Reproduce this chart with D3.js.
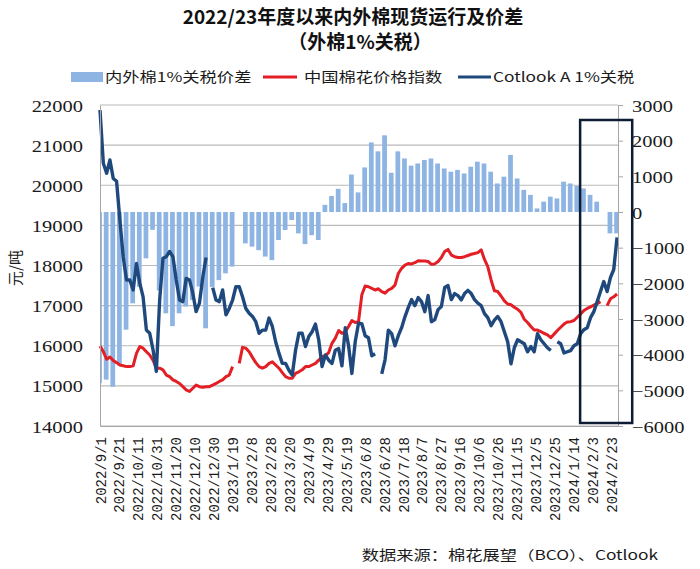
<!DOCTYPE html>
<html><head><meta charset="utf-8">
<script src="https://cdn.jsdelivr.net/npm/d3@7"></script>
<style>body{margin:0;background:#fff}</style>
</head><body>
<svg id="chart" width="700" height="569"></svg>
<script>
// ---------------- data ----------------
const titleLines = ["2022/23年度以来内外棉现货运行及价差", "（外棉1%关税）"];
const legendLabels = ["内外棉1%关税价差", "中国棉花价格指数", "Cotlook A 1%关税"];
const sourceText = "数据来源：棉花展望（BCO）、Cotlook";
const yAxisTitle = "元/吨";

const axisStart = "2022/9/1";
const axisEnd = "2024/3/1";
const lineStart = "2022/9/1";   // line samples every 3.5 days
const lineStepDays = 3.5;
const barWeekStart = "2022/8/29"; // weekly bars (Mon–Fri)

const cotlookA = [
 21875,20550,20300,20630,20170,20100,19130,18220,17640,17640,
 17390,18050,17560,17220,16390,16310,15900,15360,17140,18180,
 18220,18350,18220,17640,17140,17100,17680,17640,17310,16850,
 17060,17700,18200,null,17450,17140,17100,17390,16770,16930,
 17140,17470,17470,17220,16930,16810,16730,16600,16310,16390,
 16390,16690,16480,16100,15810,15560,15560,15390,15270,15890,
 16310,16310,15980,16230,16350,16540,16140,15480,15770,15640,
 15560,15890,15930,15500,16450,16000,15310,16100,16560,16550,
 16250,16200,15750,15800,null,15300,15650,16390,16300,16000,
 16250,16450,16720,16950,17150,17000,17200,17100,16850,17250,
 16600,16650,16900,16980,17450,17500,17150,17300,17250,17140,
 17300,17380,17300,17150,17060,17000,16800,16700,16500,16640,
 16730,16600,16350,16100,15550,15950,16150,16100,16050,15850,
 15980,15850,16300,16150,16050,15950,15880,null,16100,16050,
 15820,15850,15880,16000,16050,16300,16400,16450,16700,16850,
 17100,17350,17600,17350,17700,17900,18700];

const ccIndex = [
 15995,15854,15663,15720,15630,15580,15520,15500,15480,15480,
 15500,15810,15980,15940,15850,15770,15640,15440,15440,15400,
 15270,15230,15150,15110,15060,14980,14900,14860,14940,15020,
 14980,14965,14980,14980,15020,15060,15110,15150,15230,15270,
 15480,null,15560,15960,15940,15850,15710,15580,15480,15440,
 15480,15560,15600,15520,15440,15330,15230,15190,15190,15310,
 15350,15400,15480,15480,15520,15560,15640,15730,15750,15830,
 16060,16190,16380,16310,16350,16480,16630,16580,16600,17270,
 17490,17470,17430,17390,17420,17350,17310,17390,17430,17510,
 17800,17930,18010,18050,18040,18070,18120,18110,18110,18100,
 18030,18040,18100,18200,18350,18400,18260,18220,18200,18200,
 18220,18250,18280,18300,18320,18390,18150,17970,17640,17370,
 17350,17240,17120,17040,17020,16960,16910,16830,16660,16580,
 16480,16390,16390,16350,16310,16270,16200,16290,16380,16460,
 16540,16590,16600,16630,16710,16790,16880,16930,16970,17010,
 17050,17100,null,17000,17170,17220,17290];

const spreadWeekly = [
 -4800,-4700,-4900,-4300,-3300,-2560,-2100,-1300,-500,-2200,
 -2840,-3200,-2840,-2650,-2470,-2090,-3260,-2100,-1910,-1720,
 -1530,null,-880,-970,-1070,-1250,-1350,-785,-505,-225,
 -600,-900,-650,-785,200,450,650,250,1050,550,
 1250,1950,1700,2150,1100,1700,1500,1300,1360,1460,
 1500,1360,1220,1130,1180,1080,1270,1410,1360,1130,
 800,990,1600,940,620,480,100,290,430,380,
 850,800,730,660,480,290,null,-600,-600];

const xTickLabels = ["2022/9/1","2022/9/21","2022/10/11","2022/10/31","2022/11/20","2022/12/10","2022/12/30",
 "2023/1/19","2023/2/8","2023/2/28","2023/3/20","2023/4/9","2023/4/29","2023/5/19","2023/6/8","2023/6/28",
 "2023/7/18","2023/8/7","2023/8/27","2023/9/16","2023/10/6","2023/10/26","2023/11/15","2023/12/5",
 "2023/12/25","2024/1/14","2024/2/3","2024/2/23"];
const leftTicks = [14000,15000,16000,17000,18000,19000,20000,21000,22000];
const rightTicks = [-6000,-5000,-4000,-3000,-2000,-1000,0,1000,2000,3000];
const highlightFrom = "2024/1/21", highlightTo = "2024/3/16";

// ---------------- helpers ----------------
const DAY = 864e5;
const pd = s => { const [y,m,d] = s.split("/").map(Number); return new Date(Date.UTC(y, m-1, d)); };
const SX = 1.28; // horizontal text stretch seen in the source image
const C = {bar:"#8eb4e3", red:"#e31e24", blue:"#1f497d", grid:"#bababa", axis:"#a6a6a6", text:"#1a1a1a"};

const svg = d3.select("#chart");
const L = 100, R = 618, T = 105, B = 426;

const x = d3.scaleUtc().domain([pd(axisStart), pd(axisEnd)]).range([L, R]);
const yL = d3.scaleLinear().domain([14000, 22000]).range([B, T]);
const yR = d3.scaleLinear().domain([-6000, 3000]).range([B, T]);

// grid
svg.append("g").selectAll("line").data(leftTicks).join("line")
  .attr("x1", L).attr("x2", R).attr("y1", d => yL(d)).attr("y2", d => yL(d))
  .attr("stroke", C.grid).attr("stroke-width", 1.2);

// bars
const wk0 = pd(barWeekStart);
const bars = spreadWeekly.map((v, k) => ({v, mon: new Date(+wk0 + k*7*DAY)})).filter(d => d.v != null);
svg.append("g").selectAll("rect").data(bars).join("rect")
  .attr("x", d => Math.max(L, x(d.mon)))
  .attr("width", d => Math.min(R, x(new Date(+d.mon + 5*DAY))) - Math.max(L, x(d.mon)))
  .attr("y", d => Math.min(yR(0), yR(d.v)))
  .attr("height", d => Math.abs(yR(d.v) - yR(0)))
  .attr("fill", C.bar);

// lines
const l0 = pd(lineStart);
const dateAt = i => new Date(+l0 + i*lineStepDays*DAY);
const mkLine = d3.line().defined(d => d != null).x((d, i) => x(dateAt(i))).y(d => yL(d));
svg.append("path").datum(ccIndex).attr("d", mkLine).attr("fill", "none")
  .attr("stroke", C.red).attr("stroke-width", 3).attr("stroke-linejoin", "round");
svg.append("path").datum(cotlookA).attr("d", mkLine).attr("fill", "none")
  .attr("stroke", C.blue).attr("stroke-width", 3.4).attr("stroke-linejoin", "round");

// axes
const gl = svg.append("g").attr("transform", `translate(${L},0)`)
  .call(d3.axisLeft(yL).tickValues(leftTicks).tickSize(0).tickPadding(0).tickFormat(d3.format("d")));
gl.select(".domain").attr("stroke", C.axis);
gl.selectAll(".tick text").attr("x", null).attr("dy", null)
  .attr("transform", `translate(-17,6) scale(${SX},1)`)
  .style("font-family", "'Liberation Serif'").style("font-size", "16px").attr("fill", C.text);

const gr = svg.append("g").attr("transform", `translate(${R},0)`)
  .call(d3.axisRight(yR).tickValues(rightTicks).tickSize(5).tickPadding(0)
        .tickFormat(d => d < 0 ? "−" + Math.abs(d) : String(d)));
gr.select(".domain").attr("stroke", C.axis);
gr.selectAll(".tick line").attr("stroke", C.axis);
gr.selectAll(".tick text").attr("x", null).attr("dy", null)
  .attr("transform", `translate(14,6) scale(${SX},1)`)
  .style("font-family", "'Liberation Serif'").style("font-size", "16px").attr("fill", C.text);

const gb = svg.append("g").attr("transform", `translate(0,${B})`)
  .call(d3.axisBottom(x).tickValues(xTickLabels.map(pd)).tickSize(0)
        .tickFormat((d, i) => xTickLabels[i]));
gb.select(".domain").attr("stroke", C.axis);
gb.selectAll(".tick text").attr("y", null).attr("dy", null)
  .attr("transform", "translate(5,11) rotate(-90)").attr("text-anchor", "end")
  .style("font-family", "'Liberation Mono'").style("font-size", "14px").attr("fill", C.text);

// highlight frame
svg.append("rect").attr("x", x(pd(highlightFrom))).attr("y", 120)
  .attr("width", x(pd(highlightTo)) - x(pd(highlightFrom))).attr("height", 303)
  .attr("fill", "none").attr("stroke", "#0d1b33").attr("stroke-width", 2.5);

// titles
svg.append("text").attr("transform", "translate(353,24)").attr("text-anchor", "middle")
  .style("font-family", "'Noto Sans CJK SC'").style("font-weight", 700).style("font-size", "19px")
  .attr("fill", "#111").text(titleLines[0]);
svg.append("text").attr("transform", "translate(360,49)").attr("text-anchor", "middle")
  .style("font-family", "'Noto Sans CJK SC'").style("font-weight", 700).style("font-size", "19px")
  .attr("fill", "#111").text(titleLines[1]);

// legend
const lg = svg.append("g").style("font-family", "'Noto Sans CJK SC'").style("font-size", "13.5px");
lg.append("rect").attr("x", 71).attr("y", 72).attr("width", 32).attr("height", 10).attr("fill", C.bar);
lg.append("line").attr("x1", 263).attr("x2", 297).attr("y1", 77).attr("y2", 77).attr("stroke", C.red).attr("stroke-width", 3);
lg.append("line").attr("x1", 458).attr("x2", 491).attr("y1", 77).attr("y2", 77).attr("stroke", C.blue).attr("stroke-width", 3);
[[105, 0], [304, 1], [493, 2]].forEach(([px, i]) =>
  lg.append("text").attr("transform", `translate(${px},82) scale(${SX},1)`).attr("fill", C.text).text(legendLabels[i]));

// y axis title
svg.append("text").attr("transform", "translate(21,268) rotate(-90)").attr("text-anchor", "middle")
  .style("font-family", "'Noto Sans CJK SC'").style("font-size", "15px").attr("fill", C.text).text(yAxisTitle);

// source
svg.append("text").attr("transform", `translate(658,560) scale(${SX},1)`).attr("text-anchor", "end")
  .style("font-family", "'Noto Sans CJK SC'").style("font-size", "13.5px").attr("fill", C.text).text(sourceText);
</script>
</body></html>
